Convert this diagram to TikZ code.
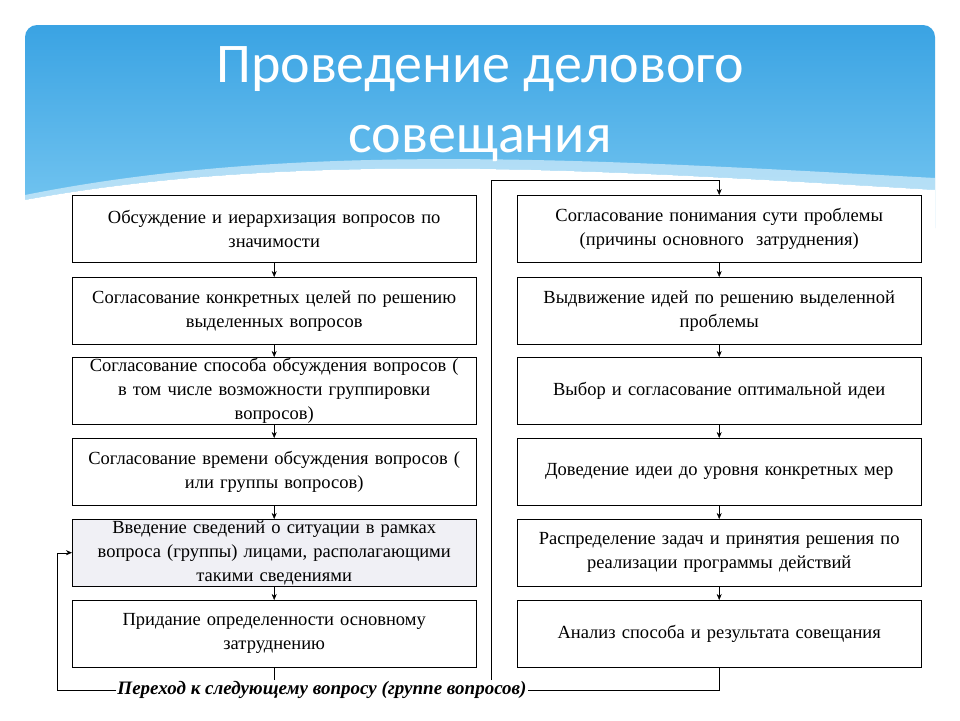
\documentclass[tikz,border=0pt]{standalone}
\usepackage{fontspec}
\setmainfont{Liberation Serif}
\newfontfamily\titlefont{Carlito}
\usetikzlibrary{arrows,arrows.meta,calc,positioning}
\tikzset{
  >={Stealth[length=6pt,width=5pt]}
}
\definecolor{hdrblue}{HTML}{3AA3E3}
\definecolor{hdrlight}{HTML}{7CCAF2}
\definecolor{grayfill}{HTML}{F0F0F5}

\begin{document}
\begin{tikzpicture}[x=1pt,y=-1pt,
    stepbox/.style={rectangle,draw,thin,anchor=north west,minimum width=404pt,minimum height=67pt,
      text width=404pt,align=center,inner sep=0pt,font=\fontsize{18.5}{24}\selectfont,fill=white},
    link/.style={draw,thin}
  ]
    \useasboundingbox (0,0) rectangle (960,720);
    % header
    \fill[white] (0,0) rectangle (960,720);
    \shade[top color=hdrblue,bottom color=hdrlight,rounded corners=12pt] (25,25) rectangle (935,240);
    \fill[white] (25,200) .. controls (300,150) and (600,170) .. (935,190) -- (935,250) -- (25,250) -- cycle;
    \fill[white,opacity=0.5] (25,195) .. controls (300,140) and (600,160) .. (935,178) -- (935,190) .. controls (600,170) and (300,150) .. (25,200) -- cycle;
    \node (TITLE) at (480,104) [text=white,align=center,font=\titlefont\fontsize{56}{70}\selectfont] {Проведение делового\\совещания};

    % left column
    \node (L1) at (72,195) [stepbox] {Обсуждение и иерархизация вопросов по\\значимости};
    \node (L2) at (72,277) [stepbox] {Согласование конкретных целей по решению\\выделенных вопросов};
    \node (L3) at (72,357) [stepbox] {Согласование способа обсуждения вопросов (\\в том числе возможности группировки\\вопросов)};
    \node (L4) at (72,438) [stepbox] {Согласование времени обсуждения вопросов (\\или группы вопросов)};
    \node (L5) at (72,519) [stepbox,fill=grayfill] {Введение сведений о ситуации в рамках\\вопроса (группы) лицами, располагающими\\такими сведениями};
    \node (L6) at (72,600) [stepbox] {Придание определенности основному\\затруднению};

    % right column
    \node (R1) at (517,195) [stepbox] {Согласование понимания сути проблемы\\(причины основного~ затруднения)};
    \node (R2) at (517,277) [stepbox] {Выдвижение идей по решению выделенной\\проблемы};
    \node (R3) at (517,357) [stepbox] {Выбор и согласование оптимальной идеи};
    \node (R4) at (517,438) [stepbox] {Доведение идеи до уровня конкретных мер};
    \node (R5) at (517,519) [stepbox] {Распределение задач и принятия решения по\\реализации программы действий};
    \node (R6) at (517,600) [stepbox] {Анализ способа и результата совещания};

    \node (NEXT) at (322,690) [font=\fontsize{19}{22}\selectfont\bfseries\itshape,inner sep=1pt,fill=white] {Переход к следующему вопросу (группе вопросов)};

    \foreach \a/\b in {L1/L2,L2/L3,L3/L4,L4/L5,L5/L6,R1/R2,R2/R3,R3/R4,R4/R5,R5/R6}
      \draw[->] (\a.south) -- (\b.north);

    \coordinate (TOPL) at (491,180);
    \coordinate (BOTL) at (491,680);
    \draw[link] (BOTL) -- (TOPL);
    \draw[->] (TOPL) -| (R1.north);
    \draw[link] (L6.south) -- (L6.south |- NEXT.north);
    \draw[link] (R6.south) |- (NEXT.east);
    \draw[->] (NEXT.west) -- (57,690) |- (L5.west);
  \end{tikzpicture}
\end{document}
